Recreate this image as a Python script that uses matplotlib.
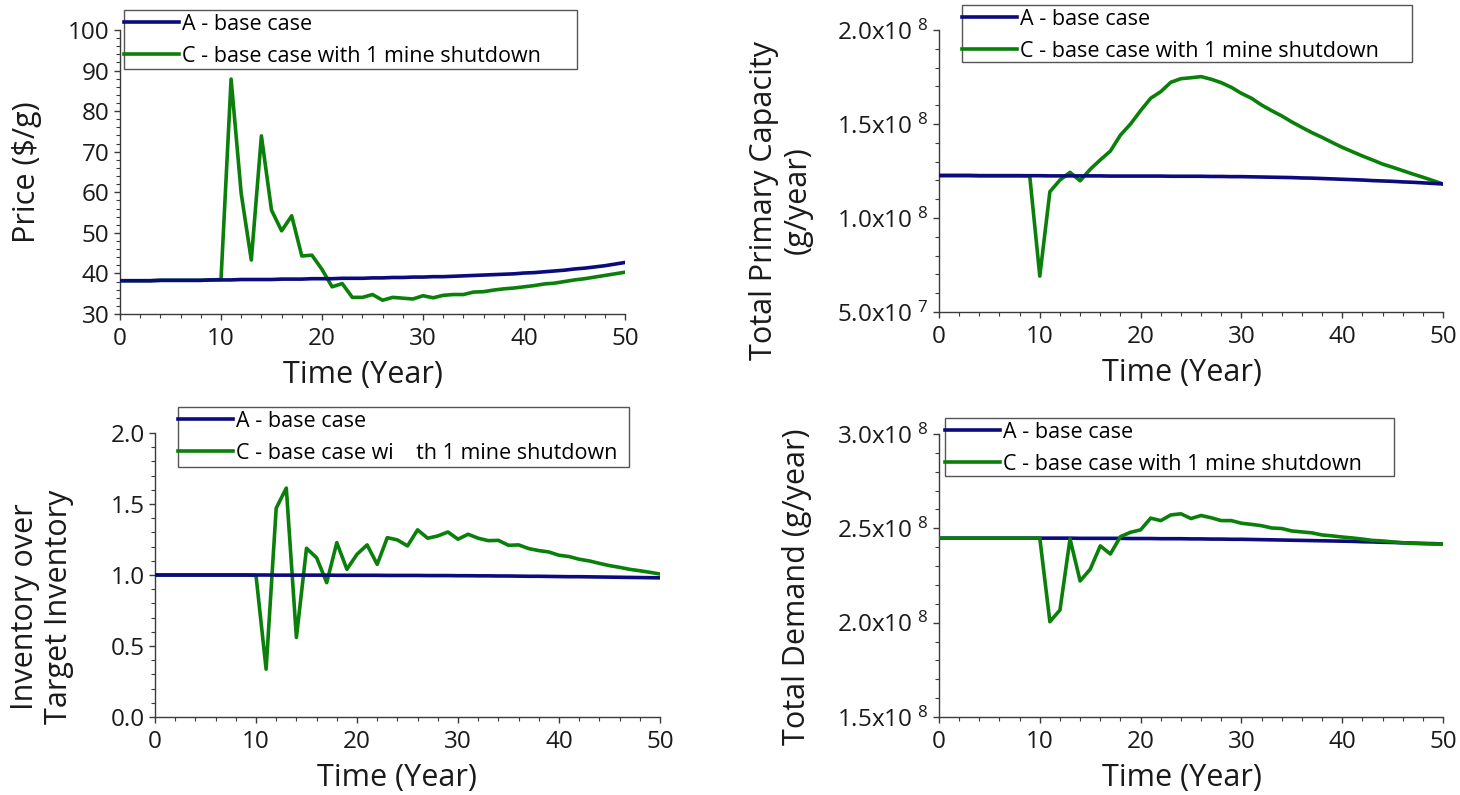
import numpy as np
import matplotlib
matplotlib.use("Agg")
import matplotlib.pyplot as plt
from matplotlib.ticker import MultipleLocator, FuncFormatter
from matplotlib.patches import Rectangle

FONT = "Open Sans"
plt.rcParams['font.family'] = [FONT, 'DejaVu Sans']
plt.rcParams['mathtext.fontset'] = 'custom'
plt.rcParams['mathtext.rm'] = FONT
plt.rcParams['mathtext.default'] = 'regular'

# ---------------- data ----------------
years = list(range(0, 51))

price_A = [38.2, 38.2, 38.2, 38.2, 38.3, 38.3, 38.3, 38.3, 38.3, 38.4,
           38.4, 38.4, 38.5, 38.5, 38.5, 38.5, 38.6, 38.6, 38.6, 38.7,
           38.7, 38.7, 38.8, 38.8, 38.8, 38.9, 38.9, 39.0, 39.0, 39.1,
           39.1, 39.2, 39.2, 39.3, 39.4, 39.5, 39.6, 39.7, 39.8, 39.9,
           40.1, 40.2, 40.4, 40.6, 40.8, 41.1, 41.3, 41.6, 41.9, 42.3, 42.7]
price_C = [38.2, 38.2, 38.2, 38.2, 38.3, 38.3, 38.3, 38.3, 38.3, 38.4,
           38.5, 87.9, 59.7, 43.3, 73.9, 55.6, 50.5, 54.2, 44.3, 44.5,
           41.0, 36.7, 37.5, 34.1, 34.1, 34.8, 33.4, 34.1, 33.9, 33.7,
           34.5, 34.0, 34.6, 34.8, 34.8, 35.4, 35.5, 35.9, 36.2, 36.4,
           36.7, 37.0, 37.4, 37.6, 38.0, 38.4, 38.7, 39.1, 39.5, 39.9, 40.3]

# total primary capacity, in units of 1e8 g/year
capacity_A = [1.226, 1.226, 1.226, 1.226, 1.225, 1.225, 1.225, 1.225, 1.225, 1.225,
              1.225, 1.224, 1.224, 1.224, 1.224, 1.224, 1.224, 1.223, 1.223, 1.223,
              1.223, 1.223, 1.223, 1.222, 1.222, 1.222, 1.222, 1.221, 1.221, 1.220,
              1.220, 1.219, 1.218, 1.217, 1.216, 1.215, 1.213, 1.212, 1.210, 1.208,
              1.206, 1.204, 1.202, 1.199, 1.197, 1.195, 1.192, 1.190, 1.187, 1.184, 1.181]
capacity_C = [1.226, 1.226, 1.226, 1.226, 1.225, 1.225, 1.225, 1.225, 1.225, 1.224,
              0.691, 1.140, 1.202, 1.243, 1.198, 1.259, 1.309, 1.356, 1.441, 1.500,
              1.571, 1.637, 1.672, 1.722, 1.741, 1.746, 1.752, 1.738, 1.720, 1.695,
              1.663, 1.637, 1.601, 1.571, 1.543, 1.511, 1.482, 1.454, 1.429, 1.402,
              1.376, 1.353, 1.330, 1.309, 1.287, 1.270, 1.252, 1.234, 1.217, 1.199, 1.181]

inventory_A = [1.000, 1.000, 1.000, 1.000, 1.000, 1.000, 1.000, 1.000, 1.000, 1.000,
               1.000, 1.000, 0.999, 0.999, 0.999, 0.999, 0.999, 0.999, 0.998, 0.998,
               0.998, 0.998, 0.998, 0.997, 0.997, 0.997, 0.997, 0.996, 0.996, 0.996,
               0.995, 0.995, 0.994, 0.994, 0.993, 0.993, 0.992, 0.991, 0.991, 0.990,
               0.989, 0.988, 0.988, 0.987, 0.986, 0.985, 0.984, 0.983, 0.982, 0.981, 0.980]
inventory_C = [1.000, 1.000, 1.000, 1.000, 1.000, 1.000, 1.000, 1.000, 1.000, 1.000,
               0.997, 0.337, 1.471, 1.612, 0.560, 1.188, 1.122, 0.946, 1.228, 1.040,
               1.146, 1.212, 1.075, 1.263, 1.247, 1.205, 1.318, 1.259, 1.275, 1.303,
               1.252, 1.287, 1.259, 1.242, 1.244, 1.209, 1.212, 1.186, 1.172, 1.162,
               1.139, 1.130, 1.111, 1.099, 1.082, 1.066, 1.054, 1.040, 1.030, 1.019, 1.007]

# total demand, in units of 1e8 g/year
demand_A = [2.448, 2.448, 2.448, 2.448, 2.448, 2.448, 2.448, 2.448, 2.448, 2.448,
            2.448, 2.448, 2.448, 2.448, 2.447, 2.447, 2.447, 2.447, 2.447, 2.446,
            2.446, 2.446, 2.445, 2.445, 2.445, 2.444, 2.444, 2.443, 2.443, 2.442,
            2.442, 2.441, 2.440, 2.439, 2.438, 2.437, 2.436, 2.435, 2.434, 2.433,
            2.432, 2.431, 2.429, 2.428, 2.426, 2.425, 2.423, 2.422, 2.420, 2.419, 2.417]
demand_C = [2.448, 2.448, 2.448, 2.448, 2.448, 2.448, 2.448, 2.448, 2.448, 2.448,
            2.448, 2.005, 2.067, 2.444, 2.221, 2.283, 2.407, 2.364, 2.456, 2.479,
            2.492, 2.554, 2.541, 2.571, 2.577, 2.552, 2.568, 2.556, 2.541, 2.541,
            2.527, 2.521, 2.514, 2.502, 2.499, 2.486, 2.481, 2.476, 2.465, 2.460,
            2.454, 2.449, 2.443, 2.436, 2.433, 2.428, 2.424, 2.420, 2.419, 2.417, 2.417]

SCALE = 1e8
label_A = "A - base case"
label_C = "C - base case with 1 mine shutdown"
label_C_inv = "C - base case wi    th 1 mine shutdown"

price_ticks = [30, 40, 50, 60, 70, 80, 90, 100]
capacity_ticks = [0.5e8, 1.0e8, 1.5e8, 2.0e8]
inventory_ticks = [0.0, 0.5, 1.0, 1.5, 2.0]
demand_ticks = [1.5e8, 2.0e8, 2.5e8, 3.0e8]
time_ticks = [0, 10, 20, 30, 40, 50]

# ---------------- styling ----------------
W, H = 1460, 795
BLUE = "#0b0b7d"
GREEN = "#0a7f0a"
AXC = "#3a3a3a"
TXT = "#1a1a1a"
TICK_FS = 17.5
LABEL_FS = 22
LEG_FS = 15.5

fig = plt.figure(figsize=(W / 100, H / 100), dpi=100)


def make_ax(l, r, t, b):
    return fig.add_axes([l / W, 1 - b / H, (r - l) / W, (b - t) / H])


def sci_fmt(v, pos):
    if v <= 0:
        return "0"
    e = int(np.floor(np.log10(v) + 1e-9))
    m = v / 10 ** e
    return f"{m:.1f}x10$^{{\\ {e}}}$"


def style(ax, yticks, ymin, ymax, yminor, fmt=None):
    for s in ("top", "right"):
        ax.spines[s].set_visible(False)
    for s in ("left", "bottom"):
        ax.spines[s].set_color(AXC)
        ax.spines[s].set_linewidth(1.0)
    ax.set_xlim(0, 50)
    ax.set_ylim(ymin, ymax)
    ax.set_xticks(time_ticks)
    ax.xaxis.set_minor_locator(MultipleLocator(2))
    ax.set_yticks(yticks)
    ax.yaxis.set_minor_locator(MultipleLocator(yminor))
    if fmt is not None:
        ax.yaxis.set_major_formatter(FuncFormatter(fmt))
    ax.tick_params(which="major", direction="out", length=4.5, width=1.0,
                   color=AXC, labelsize=TICK_FS, labelcolor=TXT, pad=3)
    ax.tick_params(axis="x", which="major", pad=5)
    ax.tick_params(which="minor", direction="out", length=3.0, width=0.8, color=AXC)
    ax.set_facecolor("none")


def put_labels(ax, l, r, t, b, ylabel, ylx, yly, xlx, xly):
    ax.set_xlabel("Time (Year)", fontsize=LABEL_FS, color=TXT)
    ax.xaxis.label.set_va("center")
    ax.xaxis.set_label_coords((xlx - l) / (r - l), -(xly - b) / (b - t))
    ax.set_ylabel(ylabel, fontsize=LABEL_FS, color=TXT, linespacing=1.15)
    ax.yaxis.label.set_va("center")
    ax.yaxis.label.set_ha("center")
    ax.yaxis.set_label_coords((ylx - l) / (r - l), (b - yly) / (b - t))


def legend(ax, box, labC, lines):
    x0, y0, x1, y1 = box
    frame = Rectangle((x0 / W, 1 - y1 / H), (x1 - x0) / W, (y1 - y0) / H,
                      transform=fig.transFigure, facecolor="white",
                      edgecolor="#555555", lw=1.0, clip_on=False, zorder=9)
    ax.add_patch(frame)
    leg = ax.legend(lines, [label_A, labC], loc="upper left",
                    bbox_to_anchor=(x0 / W, 1 - (y0 + 4) / H), bbox_transform=fig.transFigure,
                    borderaxespad=0, fontsize=LEG_FS, frameon=False, borderpad=0,
                    handlelength=2.55, handletextpad=0.15, labelspacing=0.5)
    leg.set_zorder(10)
    return leg


LW = 2.6

# --- top-left: price
l, r, t, b = 120, 625, 30, 314
ax1 = make_ax(l, r, t, b)
lc, = ax1.plot(years, price_C, color=GREEN, lw=LW, zorder=2)
la, = ax1.plot(years, price_A, color=BLUE, lw=LW, zorder=3)
style(ax1, price_ticks, 30, 100, 2)
put_labels(ax1, l, r, t, b, "Price ($/g)", 27, 172, 363, 375)
legend(ax1, (124, 10, 577, 69), label_C, [la, lc])

# --- top-right: capacity
l, r, t, b = 939, 1443, 30, 312
ax2 = make_ax(l, r, t, b)
cap_C = np.array(capacity_C) * SCALE
cap_A = np.array(capacity_A) * SCALE
lc, = ax2.plot(years, cap_C, color=GREEN, lw=LW, zorder=2)
la, = ax2.plot(years, cap_A, color=BLUE, lw=LW, zorder=3)
style(ax2, capacity_ticks, 0.5e8, 2.0e8, 0.1e8, sci_fmt)
put_labels(ax2, l, r, t, b, "Total Primary Capacity\n(g/year)", 781, 200, 1182, 373)
legend(ax2, (962, 5, 1412, 62), label_C, [la, lc])

# --- bottom-left: inventory
l, r, t, b = 155, 660, 433, 717
ax3 = make_ax(l, r, t, b)
lc, = ax3.plot(years, inventory_C, color=GREEN, lw=LW, zorder=2)
la, = ax3.plot(years, inventory_A, color=BLUE, lw=LW, zorder=3)
style(ax3, inventory_ticks, 0.0, 2.0, 0.1, lambda v, p: f"{v:.1f}")
put_labels(ax3, l, r, t, b, "Inventory over\nTarget Inventory", 42, 607, 397, 778)
legend(ax3, (178, 407, 629, 467), label_C_inv, [la, lc])

# --- bottom-right: demand
l, r, t, b = 939, 1443, 434, 717
ax4 = make_ax(l, r, t, b)
dem_C = np.array(demand_C) * SCALE
dem_A = np.array(demand_A) * SCALE
la, = ax4.plot(years, dem_A, color=BLUE, lw=LW, zorder=2)
lc, = ax4.plot(years, dem_C, color=GREEN, lw=LW, zorder=3)
style(ax4, demand_ticks, 1.5e8, 3.0e8, 0.1e8, sci_fmt)
put_labels(ax4, l, r, t, b, "Total Demand (g/year)", 797, 587, 1182, 778)
legend(ax4, (945, 418, 1394, 476), label_C, [la, lc])

fig.savefig("out.png", dpi=100)
